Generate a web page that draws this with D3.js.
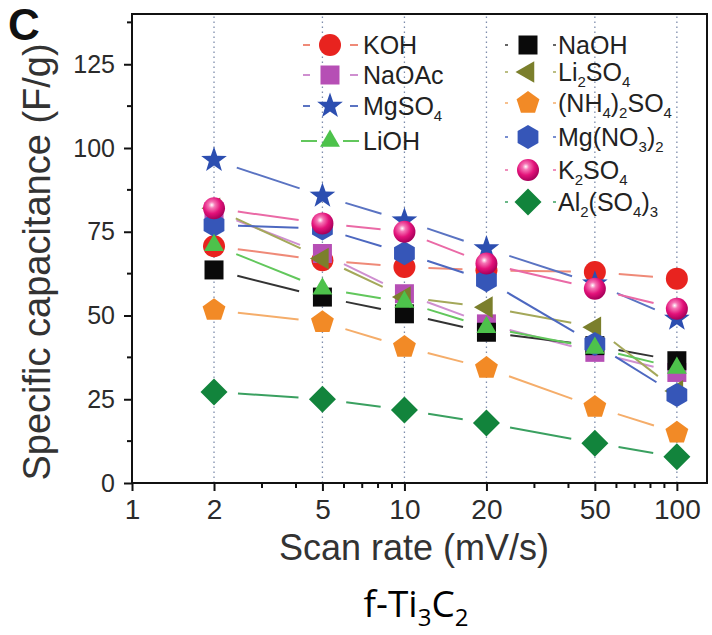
<!DOCTYPE html>
<html><head><meta charset="utf-8">
<script src="https://cdn.jsdelivr.net/npm/d3@7"></script>
<style>body{margin:0;background:#fff} svg{display:block}</style>
</head><body>
<svg id="c" width="712" height="635"></svg>
<script>
// ---------------- data ----------------
const scanRates = [2, 5, 10, 20, 50, 100];
const xTickValues = [1, 2, 5, 10, 20, 50, 100];
const xMinorTicks = [3, 4, 6, 7, 8, 9, 30, 40, 60, 70, 80, 90];
const yTickValues = [0, 25, 50, 75, 100, 125];
const yMinorTicks = [12.5, 37.5, 62.5, 87.5, 112.5, 137.5];

const seriesNames = ["KOH", "NaOAc", "MgSO4", "LiOH", "NaOH", "Li2SO4", "(NH4)2SO4", "Mg(NO3)2", "K2SO4", "Al2(SO4)3"];
const KOH      = [70.7, 66.5, 64.5, 63.5, 63.0, 61.0];
const NaOAc    = [81.0, 68.5, 56.5, 47.5, 39.0, 33.0];
const MgSO4    = [96.4, 85.7, 78.3, 70.0, 59.5, 49.0];
const LiOH     = [71.0, 58.0, 54.0, 46.5, 40.3, 34.3];
const NaOH     = [63.6, 55.5, 50.5, 45.0, 41.0, 36.5];
const Li2SO4   = [82.0, 67.0, 55.5, 52.5, 46.5, 27.5];
const NH42SO4  = [51.6, 48.0, 40.6, 34.3, 22.7, 15.0];
const MgNO32   = [77.0, 76.0, 68.6, 60.5, 41.5, 26.3];
const K2SO4    = [82.0, 77.5, 75.0, 65.5, 58.0, 52.0];
const Al2SO43  = [27.2, 25.0, 21.8, 17.9, 11.9, 7.8];
const seriesValues = [KOH, NaOAc, MgSO4, LiOH, NaOH, Li2SO4, NH42SO4, MgNO32, K2SO4, Al2SO43];
const seriesColors = ["#e8231f", "#b64fb5", "#2c4eb0", "#4dc24b", "#0a0a0a", "#7b7f2c", "#f28a26", "#3656b8", "#e6197d", "#12843c"];
const lineColors   = ["#ef8a78", "#cf8fd0", "#5a73c2", "#62c75c", "#333333", "#a4a85a", "#f5ad6a", "#4d68c0", "#ea6aa6", "#3aa060"];
const seriesShapes = ["circle", "square", "star", "triUp", "square", "triLeft", "pentagon", "hexagon", "sphere", "diamond"];
const drawOrder = [0, 1, 2, 4, 5, 6, 7, 8, 3, 9];

// ---------------- layout ----------------
const svg = d3.select("#c");
const L = 132, R = 707, T = 14, B = 483;
const x = d3.scaleLog().domain([1, 129]).range([L, R]);
const y = d3.scaleLinear().domain([0, 140]).range([B, T]);
const FONT = "'Liberation Sans', Arial, Helvetica, sans-serif";

// defs: sphere gradient
const defs = svg.append("defs");
const grad = defs.append("radialGradient").attr("id", "sph").attr("cx", "40%").attr("cy", "35%").attr("r", "65%");
grad.append("stop").attr("offset", "0%").attr("stop-color", "#ffffff");
grad.append("stop").attr("offset", "22%").attr("stop-color", "#f575b5");
grad.append("stop").attr("offset", "60%").attr("stop-color", "#e3127a");
grad.append("stop").attr("offset", "100%").attr("stop-color", "#a8005a");

// vertical dotted grid lines
svg.append("g").selectAll("line").data(scanRates).join("line")
  .attr("x1", d => x(d)).attr("x2", d => x(d))
  .attr("y1", B).attr("y2", T)
  .attr("stroke", "#7d8cab").attr("stroke-width", 1.3)
  .attr("stroke-dasharray", "1.5,3.5");

// axes
const xAxis = svg.append("g").attr("transform", `translate(0,${B})`)
  .call(d3.axisBottom(x).tickValues(xTickValues).tickFormat(d3.format("d")).tickSize(8).tickPadding(8));
const yAxis = svg.append("g").attr("transform", `translate(${L},0)`)
  .call(d3.axisLeft(y).tickValues(yTickValues).tickSize(8).tickPadding(9));
[xAxis, yAxis].forEach(g => {
  g.select(".domain").remove();
  g.selectAll(".tick line").attr("stroke", "#111").attr("stroke-width", 2);
});
xAxis.selectAll(".tick text").attr("font-family", FONT).attr("font-size", 28).attr("fill", "#2b2b2b");
yAxis.selectAll(".tick text").attr("font-family", FONT).attr("font-size", 25).attr("fill", "#2b2b2b");

// minor ticks
svg.append("g").selectAll("line").data(xMinorTicks).join("line")
  .attr("x1", d => x(d)).attr("x2", d => x(d)).attr("y1", B).attr("y2", B + 5)
  .attr("stroke", "#111").attr("stroke-width", 2);
svg.append("g").selectAll("line").data(yMinorTicks).join("line")
  .attr("x1", L - 5).attr("x2", L).attr("y1", d => y(d)).attr("y2", d => y(d))
  .attr("stroke", "#111").attr("stroke-width", 2);

// marker path
function shapePath(shape) {
  const poly = (n, r, rot) => {
    const pts = [];
    for (let i = 0; i < n; i++) {
      const a = (rot + i * 360 / n) * Math.PI / 180;
      pts.push([r * Math.cos(a), r * Math.sin(a)]);
    }
    return "M" + pts.map(p => p.join(",")).join("L") + "Z";
  };
  switch (shape) {
    case "square": return "M-9.5,-9.5H9.5V9.5H-9.5Z";
    case "triUp": return poly(3, 11.5, -90);
    case "triLeft": return poly(3, 12.5, 180);
    case "pentagon": return poly(5, 12, -90);
    case "hexagon": return poly(6, 12, -90);
    case "diamond": return poly(4, 13.5, -90);
    case "star": {
      const pts = [];
      for (let i = 0; i < 10; i++) {
        const a = (-90 + i * 36) * Math.PI / 180;
        const r = i % 2 ? 5.4 : 13.5;
        pts.push([r * Math.cos(a), r * Math.sin(a)]);
      }
      return "M" + pts.map(p => p.join(",")).join("L") + "Z";
    }
    default: return null;
  }
}
function drawMarker(g, shape, color, cx, cy) {
  if (shape === "circle") {
    g.append("circle").attr("cx", cx).attr("cy", cy).attr("r", 11).attr("fill", color);
  } else if (shape === "sphere") {
    g.append("circle").attr("cx", cx).attr("cy", cy).attr("r", 11).attr("fill", "url(#sph)");
  } else {
    g.append("path").attr("d", shapePath(shape)).attr("transform", `translate(${cx},${cy})`).attr("fill", color);
  }
}

// lines with gaps around markers
const gap = 24;
const linesG = svg.append("g");
drawOrder.forEach(si => {
  const vals = seriesValues[si];
  for (let i = 0; i < scanRates.length - 1; i++) {
    const x1 = x(scanRates[i]), y1 = y(vals[i]);
    const x2 = x(scanRates[i + 1]), y2 = y(vals[i + 1]);
    const len = Math.hypot(x2 - x1, y2 - y1);
    const ux = (x2 - x1) / len, uy = (y2 - y1) / len;
    linesG.append("line")
      .attr("x1", x1 + ux * gap).attr("y1", y1 + uy * gap)
      .attr("x2", x2 - ux * gap).attr("y2", y2 - uy * gap)
      .attr("stroke", lineColors[si]).attr("stroke-width", 2);
  }
});

// markers
const markG = svg.append("g");
drawOrder.forEach(si => {
  seriesValues[si].forEach((v, i) => drawMarker(markG, seriesShapes[si], seriesColors[si], x(scanRates[i]), y(v)));
});

// frame
svg.append("rect").attr("x", L).attr("y", T).attr("width", R - L).attr("height", B - T)
  .attr("fill", "none").attr("stroke", "#111").attr("stroke-width", 2);

// legend
function addLabel(g, txt, tx, ty, size) {
  const t = g.append("text").attr("x", tx).attr("y", ty).attr("font-family", FONT)
    .attr("font-size", size).attr("fill", "#222");
  const parts = txt.match(/\d+|[^\d]+/g);
  let shift = 0;
  parts.forEach(p => {
    if (/^\d+$/.test(p)) {
      t.append("tspan").attr("font-size", size * 0.6).attr("dy", 6 - shift).text(p);
      shift = 6;
    } else {
      t.append("tspan").attr("dy", -shift).text(p);
      shift = 0;
    }
  });
}
const legG = svg.append("g");
const leftRows = [45, 75, 106, 141];
const rightRows = [45, 72, 103, 137, 170, 202];
for (let i = 0; i < 4; i++) {
  const cy = leftRows[i], cx = 330;
  const long = seriesShapes[i] === "triUp";
  const segs = long ? [[301, 317], [343, 359]] : [[303, 310], [350, 358]];
  segs.forEach(s => legG.append("line").attr("x1", s[0]).attr("x2", s[1]).attr("y1", cy).attr("y2", cy)
    .attr("stroke", lineColors[i]).attr("stroke-width", 2));
  drawMarker(legG, seriesShapes[i], seriesColors[i], cx, cy);
  addLabel(legG, seriesNames[i], 363, cy + 9, 25);
}
for (let j = 0; j < 6; j++) {
  const i = j + 4, cy = rightRows[j], cx = 528;
  [[505, 508], [553, 556]].forEach(s => legG.append("line").attr("x1", s[0]).attr("x2", s[1]).attr("y1", cy).attr("y2", cy)
    .attr("stroke", lineColors[i]).attr("stroke-width", 1.5));
  drawMarker(legG, seriesShapes[i], seriesColors[i], cx, cy);
  addLabel(legG, seriesNames[i], 558, cy + 9, 25);
}

// axis titles
svg.append("text").attr("x", 414).attr("y", 560).attr("text-anchor", "middle")
  .attr("font-family", FONT).attr("font-size", 36).attr("fill", "#333").text("Scan rate (mV/s)");
svg.append("text").attr("transform", "translate(50,262) rotate(-90)").attr("text-anchor", "middle")
  .attr("font-family", FONT).attr("font-size", 38).attr("fill", "#333").text("Specific capacitance (F/g)");

// panel letter
svg.append("text").attr("x", 8).attr("y", 40).attr("font-family", FONT).attr("font-weight", "bold")
  .attr("font-size", 44).attr("fill", "#111").text("C");

// caption
const cap = svg.append("text").attr("x", 416).attr("y", 617).attr("text-anchor", "middle")
  .attr("font-family", "'Open Sans', 'Noto Sans', sans-serif").attr("font-size", 37).attr("fill", "#000");
cap.append("tspan").text("f-Ti");
cap.append("tspan").attr("font-size", 24).attr("dy", 9).text("3");
cap.append("tspan").attr("dy", -9).text("C");
cap.append("tspan").attr("font-size", 24).attr("dy", 9).text("2");
</script>
</body></html>
